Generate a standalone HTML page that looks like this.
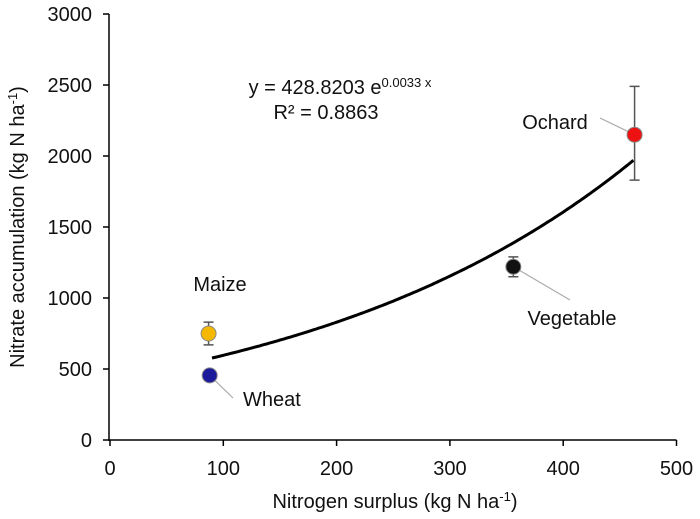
<!DOCTYPE html>
<html><head><meta charset="utf-8"><style>
body{margin:0;background:#fff}
svg{display:block;font-family:"Liberation Sans",Arial,sans-serif}
</style></head><body>
<svg id="c" width="700" height="519"></svg>
<script>
const categories=["Maize","Wheat","Vegetable","Ochard"];
const xValues=[87,88,356,463];
const yValues=[750,455,1220,2150];
const errLow=[80,30,70,320];
const errHigh=[80,30,70,340];
const colors=["#f5b800","#1a1a9a","#111111","#ee1111"];
const xTicks=[0,100,200,300,400,500];
const yTicks=[0,500,1000,1500,2000,2500,3000];
const fitA=428.8203, fitB=0.0033, fitXMin=90, fitXMax=463;
// label x, y, anchor, leader end x, leader end y (null = no leader)
const labelPos=[[220,291,"middle",null,null],[243,406,"start",233,398],[572,325,"middle",570,300],[555,129,"middle",600,118]];
const NS="http://www.w3.org/2000/svg";
const svg=document.getElementById('c');
const X=v=>110+v*1.133, Y=v=>440-v*0.142;
function el(t,a,p){const e=document.createElementNS(NS,t);for(const k in a)e.setAttribute(k,a[k]);(p||svg).appendChild(e);return e;}
let a=el('line',{x1:109,y1:Y(0),x2:X(500),y2:Y(0),stroke:'#000','stroke-width':1.5});


a=el('line',{x1:109,y1:Y(0)+1,x2:109,y2:Y(3000),stroke:'#000','stroke-width':1.5});


xTicks.forEach(t=>{el('line',{x1:X(t),x2:X(t),y1:Y(0),y2:Y(0)+6,stroke:'#000','stroke-width':1.5});
const tx=el('text',{x:X(t),y:475,'text-anchor':'middle','font-size':20,fill:'#111'});tx.textContent=t;

});
yTicks.forEach(t=>{el('line',{x1:103,x2:109,y1:Y(t),y2:Y(t),stroke:'#000','stroke-width':1.5});
const tx=el('text',{x:92,y:Y(t)+7,'text-anchor':'end','font-size':20,fill:'#111'});tx.textContent=t;

});
let t=el('text',{x:395,y:508,'text-anchor':'middle','font-size':20,fill:'#111'});
t.innerHTML='Nitrogen surplus  (kg N ha<tspan dy="-7" font-size="13">-1</tspan><tspan dy="7">)</tspan>';


t=el('text',{transform:'translate(24,227) rotate(-90)','text-anchor':'middle','font-size':20,fill:'#111'});
t.innerHTML='Nitrate accumulation  (kg N ha<tspan dy="-7" font-size="13">-1</tspan><tspan dy="7">)</tspan>';


let d='';for(let x=fitXMin;x<=fitXMax;x+=2){d+=(d?'L':'M')+X(x).toFixed(1)+','+Y(fitA*Math.exp(fitB*x)).toFixed(1);}
const f=el('path',{d:d,fill:'none',stroke:'#000','stroke-width':3});


t=el('text',{x:340,y:94,'text-anchor':'middle','font-size':20,fill:'#111'});
t.innerHTML='y = 428.8203 e<tspan dy="-7" font-size="13">0.0033 x</tspan>';


t=el('text',{x:326,y:119,'text-anchor':'middle','font-size':20,fill:'#111'});
t.textContent='R² = 0.8863';


categories.forEach((c,i)=>{
const cx=X(xValues[i]),cy=Y(yValues[i]);const lp=labelPos[i];
if(lp[3]!==null){const ld=el('line',{x1:cx,y1:cy,x2:lp[3],y2:lp[4],stroke:'#aaa','stroke-width':1.2});

}
const eb=el('path',{d:`M${cx},${Y(yValues[i]+errHigh[i])}V${Y(yValues[i]-errLow[i])}M${cx-5},${Y(yValues[i]+errHigh[i])}h10M${cx-5},${Y(yValues[i]-errLow[i])}h10`,stroke:'#555','stroke-width':1.5,fill:'none'});


const p=el('circle',{cx:cx,cy:cy,r:7.5,fill:colors[i],stroke:'#888','stroke-width':1});


const l=el('text',{x:lp[0],y:lp[1],'text-anchor':lp[2],'font-size':20,fill:'#111'});l.textContent=c;


});
</script>
</body></html>
